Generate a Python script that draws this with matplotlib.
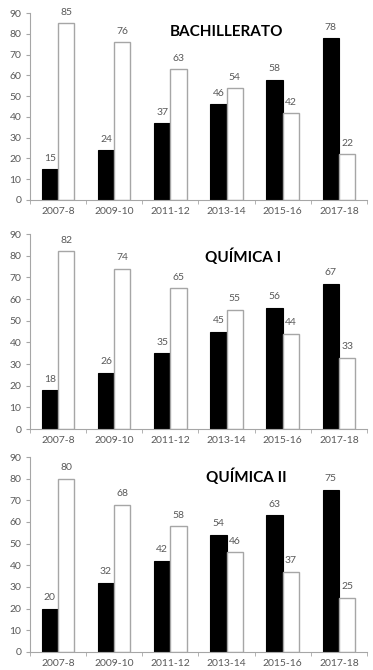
import matplotlib
matplotlib.use('Agg')
import matplotlib.pyplot as plt
import numpy as np

periods = ['2007-8', '2009-10', '2011-12', '2013-14', '2015-16', '2017-18']

titles = ['BACHILLERATO', 'QUÍMICA I', 'QUÍMICA II']
black_vals = [
    [15, 24, 37, 46, 58, 78],
    [18, 26, 35, 45, 56, 67],
    [20, 32, 42, 54, 63, 75],
]
white_vals = [
    [85, 76, 63, 54, 42, 22],
    [82, 74, 65, 55, 44, 33],
    [80, 68, 58, 46, 37, 25],
]

plt.rcParams['font.family'] = ['Lato', 'DejaVu Sans']
gray = '#595959'
axis_gray = '#a6a6a6'

fig = plt.figure(figsize=(3.73, 6.70), dpi=100)

# axes boxes: left, bottom, width, height (figure fractions)
boxes = [
    [0.080, 0.7015, 0.904, 0.279],
    [0.080, 0.3597, 0.904, 0.291],
    [0.080, 0.0269, 0.904, 0.291],
]
title_pos = [(3.0, 81), (3.3, 79.5), (3.35, 80.8)]

x = np.arange(len(periods))
w = 0.29

for k in range(3):
    ax = fig.add_axes(boxes[k])
    ax.bar(x - w / 2, black_vals[k], w, color='black', edgecolor='black', linewidth=0.8)
    ax.bar(x + w / 2, white_vals[k], w, color='white', edgecolor=axis_gray, linewidth=1.0)

    for i in range(len(periods)):
        ax.text(x[i] - w / 2, black_vals[k][i] + 3, str(black_vals[k][i]),
                ha='center', va='bottom', fontsize=7.5, color=gray)
        ax.text(x[i] + w / 2, white_vals[k][i] + 3, str(white_vals[k][i]),
                ha='center', va='bottom', fontsize=7.5, color=gray)

    ax.text(title_pos[k][0], title_pos[k][1], titles[k], ha='center', va='center',
            fontsize=11, fontweight='bold', color='black')

    ax.set_xlim(-0.5, 5.5)
    ax.set_ylim(0, 90)
    ax.set_yticks(range(0, 91, 10))
    ax.set_xticks(x)
    ax.set_xticklabels(periods)
    ax.set_xticks(np.arange(-0.5, 5.6, 1), minor=True)
    ax.tick_params(axis='x', which='major', length=0, labelsize=7.5, labelcolor=gray, pad=5)
    ax.tick_params(axis='x', which='minor', length=3, color=axis_gray, direction='out')
    ax.tick_params(axis='y', length=3, color=axis_gray, labelsize=7.5, labelcolor=gray, pad=3)

    for s in ['top', 'right']:
        ax.spines[s].set_visible(False)
    for s in ['left', 'bottom']:
        ax.spines[s].set_color(axis_gray)
        ax.spines[s].set_linewidth(0.8)

plt.savefig('out.png', dpi=100)
